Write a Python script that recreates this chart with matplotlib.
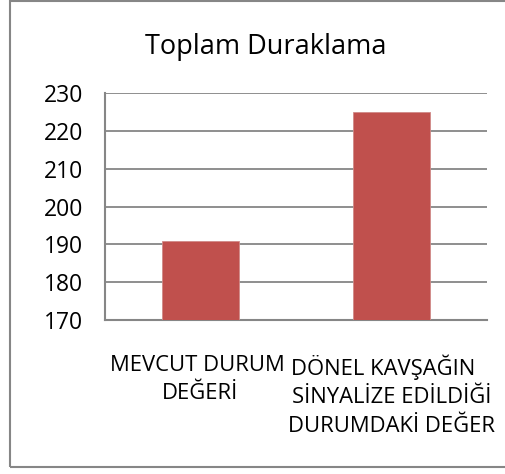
import matplotlib
matplotlib.use("Agg")
import matplotlib.pyplot as plt
from matplotlib.patches import Rectangle

# data
categories = ["MEVCUT DURUM \nDEĞERİ",
              "DÖNEL KAVŞAĞIN   \nSİNYALİZE EDİLDİĞİ\nDURUMDAKİ DEĞER"]
values = [191, 225]
y_ticks = [170, 180, 190, 200, 210, 220, 230]
title = "Toplam Duraklama"

plt.rcParams['font.family'] = ['Open Sans', 'DejaVu Sans']
grey = "#868686"

fig = plt.figure(figsize=(5.05, 4.74), dpi=100)
ax = fig.add_axes([0.208, 0.325, 0.756, 0.478])

# chart frame
fig.patches.append(Rectangle((10 / 505, 7 / 474), 1.2, 1 - 8 / 474,
                             transform=fig.transFigure, fill=False,
                             edgecolor=grey, linewidth=1.5))

x = range(len(values))
ax.bar(x, values, width=0.4, bottom=0, color="#C0504D",
       edgecolor="#D08A88", linewidth=0.6, zorder=3)
ax.set_xlim(-0.5, 1.5)
ax.set_ylim(y_ticks[0], y_ticks[-1])
ax.set_yticks(y_ticks)
ax.set_xticks(list(x))
ax.set_xticklabels(categories, multialignment="center", linespacing=1.45,
                   fontsize=15.8)
ax.tick_params(axis="both", length=0, colors="black")
ax.tick_params(axis="y", pad=16, labelsize=16.5)
ax.tick_params(axis="x", pad=25)
ax.grid(axis="y", color=grey, linewidth=1.3, zorder=0)
for side in ["top", "right"]:
    ax.spines[side].set_visible(False)
for side in ["left", "bottom"]:
    ax.spines[side].set_color(grey)
    ax.spines[side].set_linewidth(1.5)

fig.text(266 / 505, 1 - 47 / 474, title, ha="center", va="center",
         fontsize=19.5)

fig.savefig("out.png", dpi=100)
